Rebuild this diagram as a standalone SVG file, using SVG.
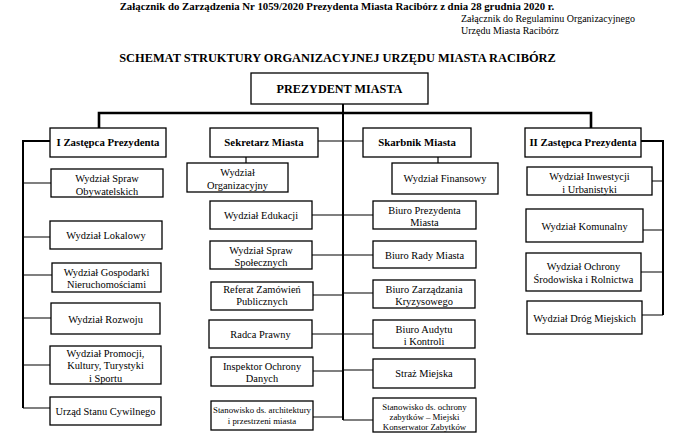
<svg xmlns="http://www.w3.org/2000/svg" width="680" height="436" viewBox="0 0 680 436">
<style>
.box{fill:#fff;stroke:#000;stroke-width:1.3}
.t{font-family:"Liberation Serif","Times New Roman",serif;font-size:10.4px;text-anchor:middle;fill:#000}
.b{font-weight:bold;font-size:10.8px}
.s{font-size:8.8px}
.c{fill:none;stroke:#000;stroke-width:1.2}
.thick{fill:none;stroke:#000;stroke-width:2.6}
.mid{fill:none;stroke:#000;stroke-width:2}
.h{font-family:"Liberation Serif","Times New Roman",serif;fill:#000}
</style>
<rect width="680" height="436" fill="#fff"/>
<g id="header">
<text class="h" x="337" y="10" font-size="10.8" font-weight="bold" text-anchor="middle">Załącznik do Zarządzenia Nr 1059/2020 Prezydenta Miasta Racibórz z dnia 28 grudnia 2020 r.</text>
<text class="h" x="461" y="22" font-size="10">Załącznik do Regulaminu Organizacyjnego</text>
<text class="h" x="461" y="34" font-size="10">Urzędu Miasta Racibórz</text>
<text class="h" x="337.5" y="62" font-size="12.4" font-weight="bold" text-anchor="middle">SCHEMAT STRUKTURY ORGANIZACYJNEJ URZĘDU MIASTA RACIBÓRZ</text>
</g>
<g id="connectors">
<path class="thick" d="M99,128V113H591V128"/>
<path class="mid" d="M343,104V420"/>
<path class="mid" d="M50,141H23V408"/>
<path class="c" d="M23,183H51M23,237H50M23,275H52M23,318H51M23,365H50M23,408H50"/>
<path class="mid" d="M641,141H663V315"/>
<path class="c" d="M652,181H663M643,230H663M641,272H663M642,315H663"/>
<path class="c" d="M318,141H343M312,215H343M312,255H343M313,295H343M312,334H343M313,371H343M313,417H343"/>
<path class="c" d="M343,141H363M343,215H373M343,255H373M343,293H373M343,334H373M343,370H373M343,420H373"/>
<path class="c" d="M246,157V163M438,157V163"/>
</g>
<g id="prezydent"><rect class="box" x="251" y="73" width="177" height="31"/><text class="t b" x="339.5" y="93" style="font-size:12.2px">PREZYDENT MIASTA</text></g>
<g id="zastepca1"><rect class="box" x="50" y="128" width="116" height="29"/><text class="t b" x="108" y="146">I Zastępca Prezydenta</text></g>
<g id="sekretarz"><rect class="box" x="210" y="128" width="108" height="29"/><text class="t b" x="264" y="146">Sekretarz Miasta</text></g>
<g id="skarbnik"><rect class="box" x="363" y="128" width="108" height="29"/><text class="t b" x="417" y="146">Skarbnik Miasta</text></g>
<g id="zastepca2"><rect class="box" x="525" y="128" width="116" height="29"/><text class="t b" x="583" y="146">II Zastępca Prezydenta</text></g>

<g id="ws-obywatelskich"><rect class="box" x="51" y="169" width="112" height="28"/><text class="t" x="107" y="182">Wydział Spraw</text><text class="t" x="107" y="194.5">Obywatelskich</text></g>
<g id="w-lokalowy"><rect class="box" x="50" y="221" width="112" height="28"/><text class="t" x="106" y="238.5">Wydział Lokalowy</text></g>
<g id="w-gospodarki"><rect class="box" x="52" y="263" width="109" height="29"/><text class="t" x="106.5" y="275.5">Wydział Gospodarki</text><text class="t" x="106.5" y="288">Nieruchomościami</text></g>
<g id="w-rozwoju"><rect class="box" x="51" y="303" width="109" height="31"/><text class="t" x="105.5" y="322.5">Wydział Rozwoju</text></g>
<g id="w-promocji"><rect class="box" x="50" y="346" width="111" height="38"/><text class="t" x="105.5" y="356.5">Wydział Promocji,</text><text class="t" x="105.5" y="369">Kultury, Turystyki</text><text class="t" x="105.5" y="381.5">i Sportu</text></g>
<g id="usc"><rect class="box" x="50" y="397" width="111" height="28"/><text class="t" x="105.5" y="415">Urząd Stanu Cywilnego</text></g>

<g id="w-organizacyjny"><rect class="box" x="187" y="163" width="101" height="29"/><text class="t" x="237.5" y="175.5">Wydział</text><text class="t" x="237.5" y="188.5">Organizacyjny</text></g>
<g id="w-edukacji"><rect class="box" x="210" y="201" width="102" height="28"/><text class="t" x="261" y="218.5">Wydział Edukacji</text></g>
<g id="ws-spolecznych"><rect class="box" x="210" y="241" width="102" height="28"/><text class="t" x="261" y="253.5">Wydział Spraw</text><text class="t" x="261" y="265.5">Społecznych</text></g>
<g id="referat"><rect class="box" x="211" y="282" width="102" height="28"/><text class="t" x="262" y="292.5">Referat Zamówień</text><text class="t" x="262" y="305">Publicznych</text></g>
<g id="radca"><rect class="box" x="209" y="320" width="103" height="28"/><text class="t" x="260.5" y="337.5">Radca Prawny</text></g>
<g id="inspektor"><rect class="box" x="211" y="357" width="102" height="29"/><text class="t" x="262" y="369.5">Inspektor Ochrony</text><text class="t" x="262" y="381.5">Danych</text></g>
<g id="st-architektury"><rect class="box" x="211" y="401" width="102" height="29"/><text class="t s" x="262" y="413">Stanowisko ds. architektury</text><text class="t s" x="262" y="423.5">i przestrzeni miasta</text></g>

<g id="w-finansowy"><rect class="box" x="392" y="163" width="106" height="31"/><text class="t" x="445" y="182">Wydział Finansowy</text></g>
<g id="b-prezydenta"><rect class="box" x="373" y="201" width="103" height="28"/><text class="t" x="424.5" y="213.5">Biuro Prezydenta</text><text class="t" x="424.5" y="225.5">Miasta</text></g>
<g id="b-rady"><rect class="box" x="373" y="241" width="103" height="27"/><text class="t" x="424.5" y="258.5">Biuro Rady Miasta</text></g>
<g id="b-kryzysowego"><rect class="box" x="373" y="280" width="102" height="28"/><text class="t" x="424" y="292.5">Biuro Zarządzania</text><text class="t" x="424" y="305">Kryzysowego</text></g>
<g id="b-audytu"><rect class="box" x="373" y="320" width="102" height="28"/><text class="t" x="424" y="332.5">Biuro Audytu</text><text class="t" x="424" y="345">i Kontroli</text></g>
<g id="straz"><rect class="box" x="373" y="359" width="102" height="29"/><text class="t" x="424" y="377">Straż Miejska</text></g>
<g id="st-zabytkow"><rect class="box" x="373" y="398" width="103" height="34"/><text class="t s" x="424.5" y="410">Stanowisko ds. ochrony</text><text class="t s" x="424.5" y="420">zabytków – Miejski</text><text class="t s" x="424.5" y="430">Konserwator Zabytków</text></g>

<g id="w-inwestycji"><rect class="box" x="527" y="167" width="125" height="28"/><text class="t" x="589.5" y="180">Wydział Inwestycji</text><text class="t" x="589.5" y="192.5">i Urbanistyki</text></g>
<g id="w-komunalny"><rect class="box" x="526" y="209" width="117" height="33"/><text class="t" x="584.5" y="229.5">Wydział Komunalny</text></g>
<g id="w-ochrony"><rect class="box" x="526" y="253" width="115" height="38"/><text class="t" x="583.5" y="270">Wydział Ochrony</text><text class="t" x="583.5" y="282.5">Środowiska i Rolnictwa</text></g>
<g id="w-drog"><rect class="box" x="527" y="301" width="115" height="33"/><text class="t" x="584.5" y="321.5">Wydział Dróg Miejskich</text></g>
</svg>
